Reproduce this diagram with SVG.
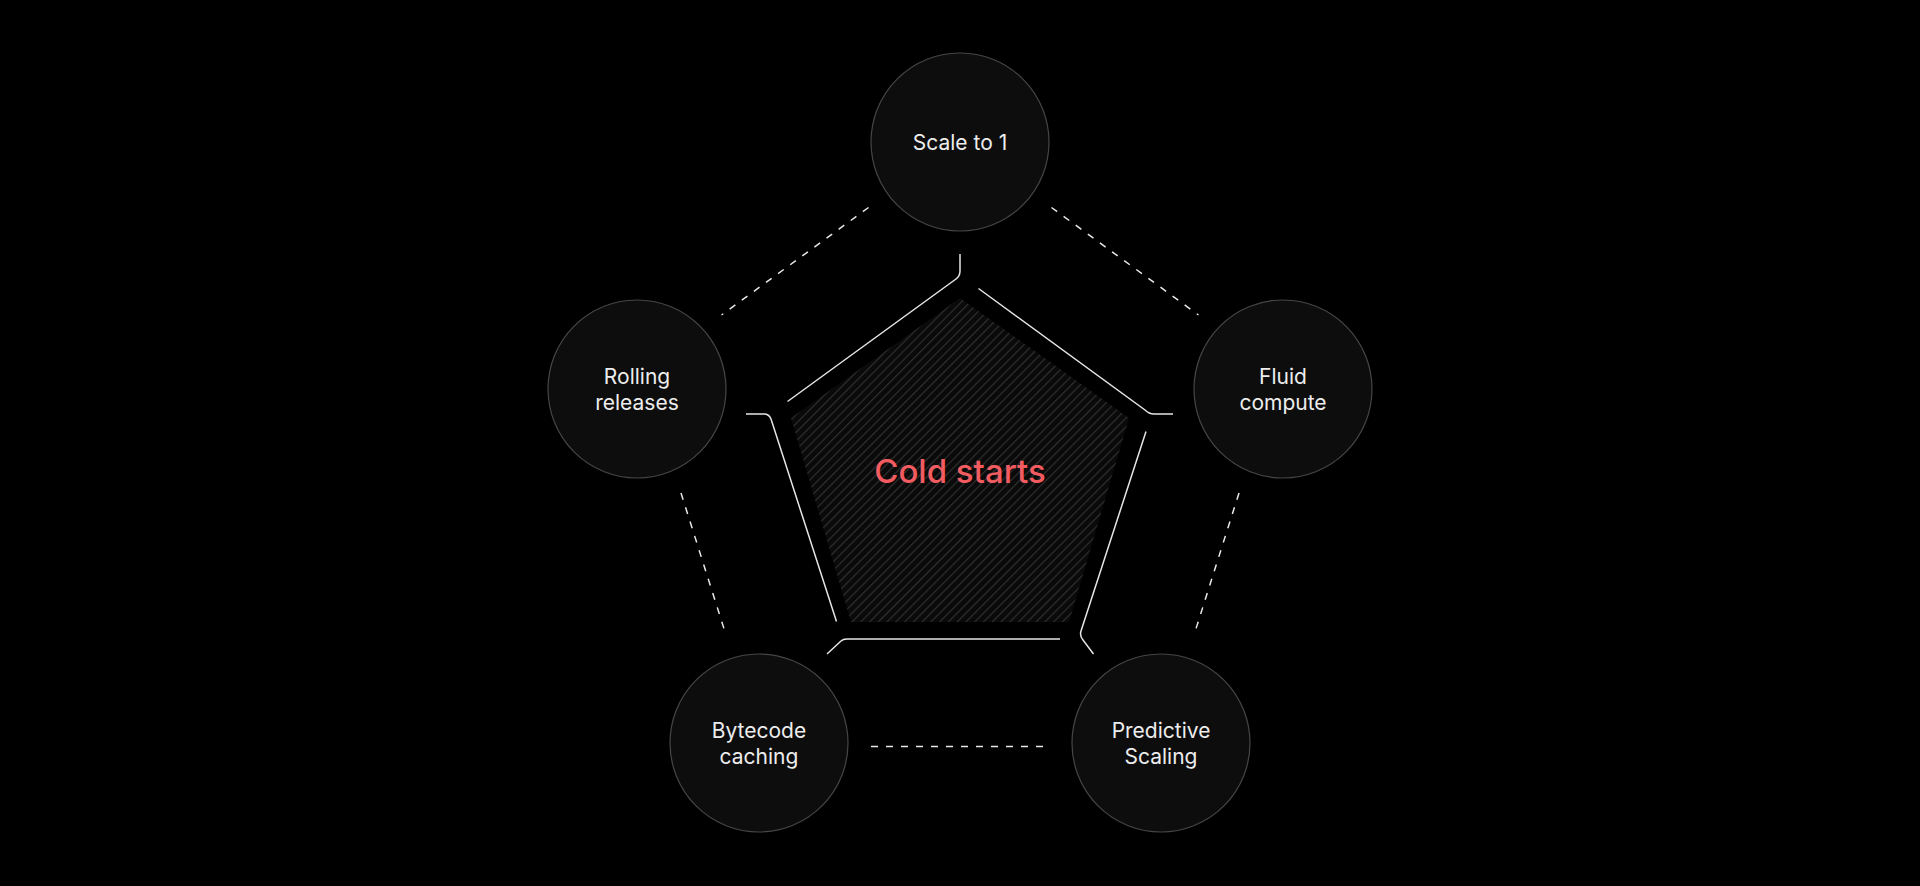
<svg xmlns="http://www.w3.org/2000/svg" width="1920" height="886" viewBox="0 0 1920 886">
  <style>
    .node circle { fill: #0d0d0d; stroke: #464646; stroke-width: 1.2; }
    .label { font-family: Inter, "Liberation Sans", sans-serif; font-size: 21px; fill: #ededed; text-anchor: middle; }
    .dash { stroke: #e8e8e8; stroke-width: 1.5; fill: none; stroke-dasharray: 7 8; }
    .edge { stroke: #e6e6e6; stroke-width: 1.5; fill: none; stroke-linecap: butt; }
    .title { font-family: Inter, "Liberation Sans", sans-serif; font-size: 33px; font-weight: 500; fill: #f25c61; text-anchor: middle; }
  </style>
  <defs>
    <pattern id="hatch" patternUnits="userSpaceOnUse" width="6.2" height="6.2" patternTransform="rotate(45)">
      <rect width="6.2" height="6.2" fill="#0a0a0a"/>
      <line x1="0.6" y1="0" x2="0.6" y2="6.2" stroke="#353535" stroke-width="1"/>
    </pattern>
  </defs>
  <rect width="1920" height="886" fill="#000"/>

  <g id="center">
    <polygon points="960,298 1129,418 1069,622 851,622 791,418" fill="url(#hatch)"/>
    <text class="title" x="960" y="483">Cold starts</text>
  </g>

  <g id="connectors">
    <path class="edge" d="M960,254 V271 Q960,276 956,279 L787.5,401.5"/>
    <path class="edge" d="M978.5,288.5 L1145,410 Q1149,414 1154,414 H1173"/>
    <path class="edge" d="M746,414 H764 Q769,414 771,419 L836.5,621.5"/>
    <path class="edge" d="M1146,431.5 L1081,631 Q1079.5,636 1083,640 L1093.5,654"/>
    <path class="edge" d="M827,654 L841,641 Q843,639 847,639 H1060"/>

    <line class="dash" x1="868.5" y1="207.5" x2="721.5" y2="315"/>
    <line class="dash" x1="1051.5" y1="207.5" x2="1198.5" y2="315"/>
    <line class="dash" x1="681" y1="493" x2="726" y2="635"/>
    <line class="dash" x1="1239" y1="493" x2="1194" y2="635"/>
    <line class="dash" x1="871" y1="746.5" x2="1050" y2="746.5"/>
  </g>

  <g id="node-scale" class="node">
    <circle cx="960" cy="142" r="89"/>
    <text class="label" x="960" y="150">Scale to 1</text>
  </g>
  <g id="node-rolling" class="node">
    <circle cx="637" cy="389" r="89"/>
    <text class="label" x="637" y="384">Rolling</text>
    <text class="label" x="637" y="410">releases</text>
  </g>
  <g id="node-fluid" class="node">
    <circle cx="1283" cy="389" r="89"/>
    <text class="label" x="1283" y="384">Fluid</text>
    <text class="label" x="1283" y="410">compute</text>
  </g>
  <g id="node-bytecode" class="node">
    <circle cx="759" cy="743" r="89"/>
    <text class="label" x="759" y="738">Bytecode</text>
    <text class="label" x="759" y="764">caching</text>
  </g>
  <g id="node-predictive" class="node">
    <circle cx="1161" cy="743" r="89"/>
    <text class="label" x="1161" y="738">Predictive</text>
    <text class="label" x="1161" y="764">Scaling</text>
  </g>
</svg>
